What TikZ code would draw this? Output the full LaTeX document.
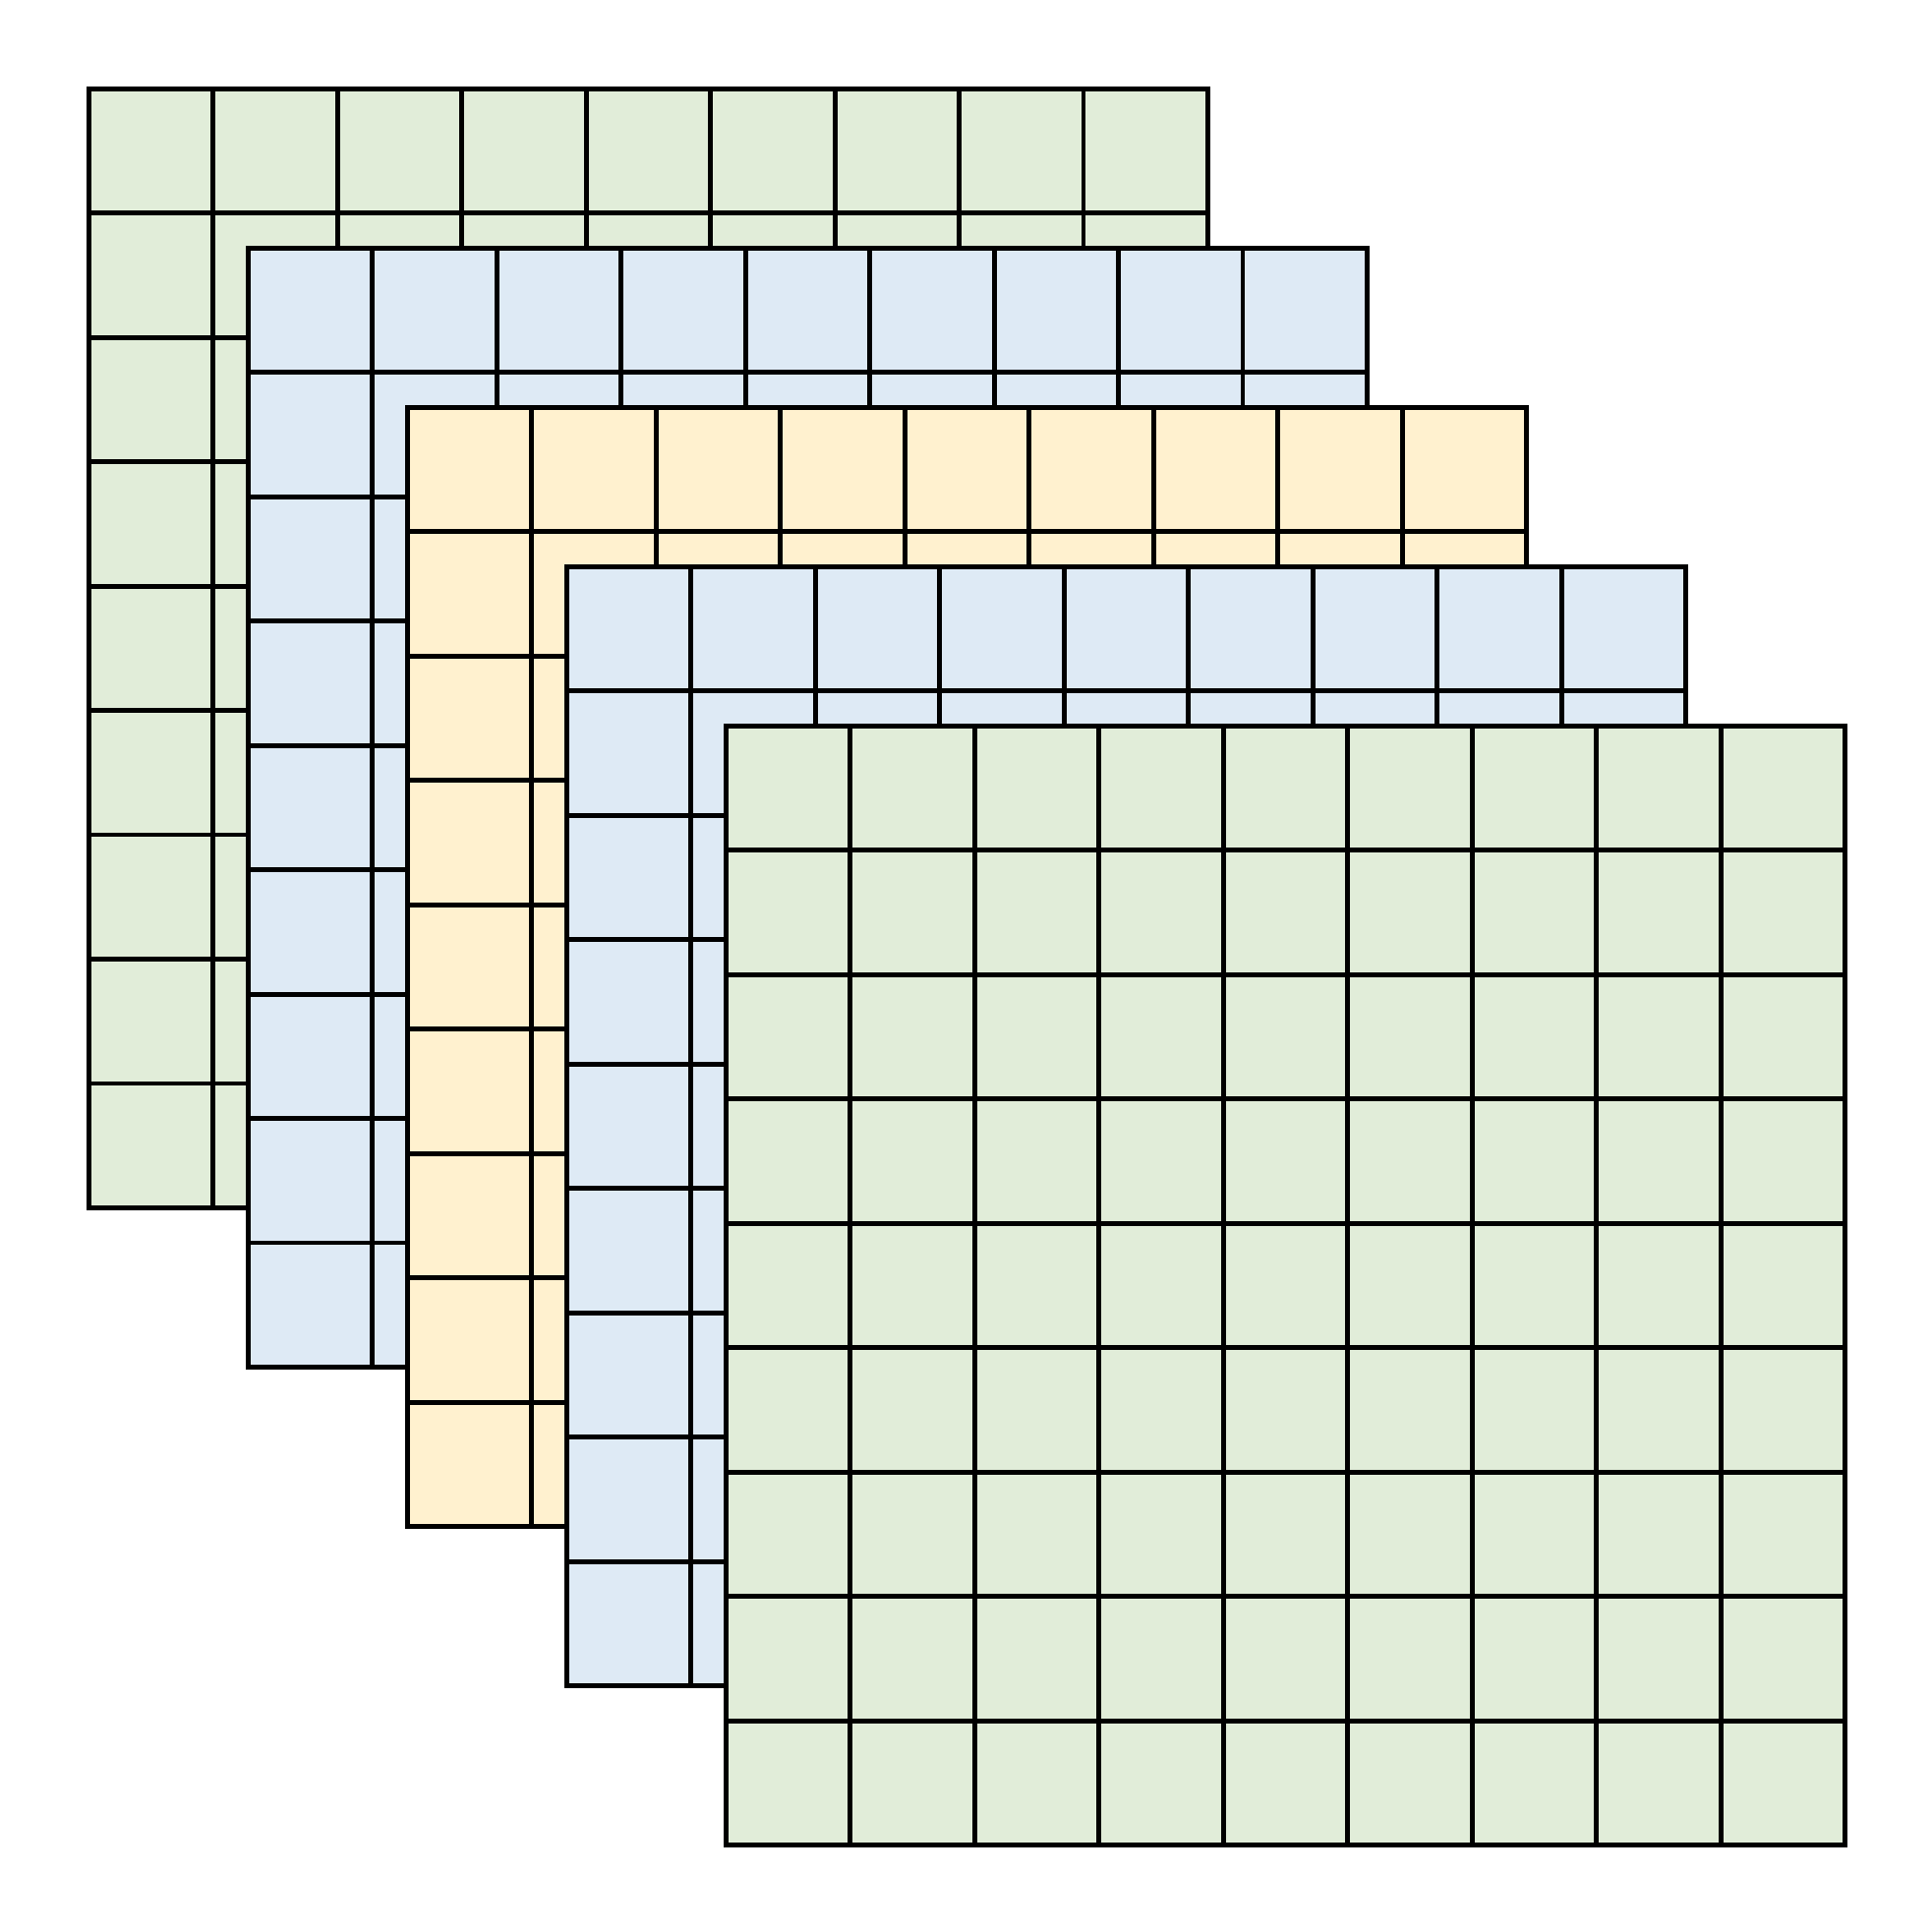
\documentclass[tikz,border=0pt]{standalone}
\usepackage{tikz}
\usetikzlibrary{positioning}
\definecolor{shgreen}{RGB}{225, 237, 217}
\definecolor{shblue}{RGB}{222, 234, 245}
\definecolor{shyellow}{RGB}{255, 241, 207}

\begin{document}
\begin{tikzpicture}[%
    x=1.0022cm, y=1.0022cm,  % one cell is one unit
    ]
% -------------------------------------------------
% Sheet styles
\tikzset{
  sheet/.style={draw=black, line width=1.1pt},
  gridline/.style={draw=black, line width=1.1pt},
  }
% -------------------------------------------------
\useasboundingbox (0,0) rectangle (15.536,15.536);

% Sheets from back to front
\foreach \k/\col in {0/shgreen, 1/shblue, 2/shyellow, 3/shblue, 4/shgreen} {
  \coordinate (s\k) at ({0.713+1.281*\k}, {15.536-0.713-1.281*\k});
  \fill [\col] (s\k) rectangle ++(9,-9);
  \draw [gridline, shift={(s\k)}] (0,0) grid[step=1] (9,-9);
  \draw [sheet] (s\k) rectangle ++(9,-9);
}
\end{tikzpicture}
\end{document}
